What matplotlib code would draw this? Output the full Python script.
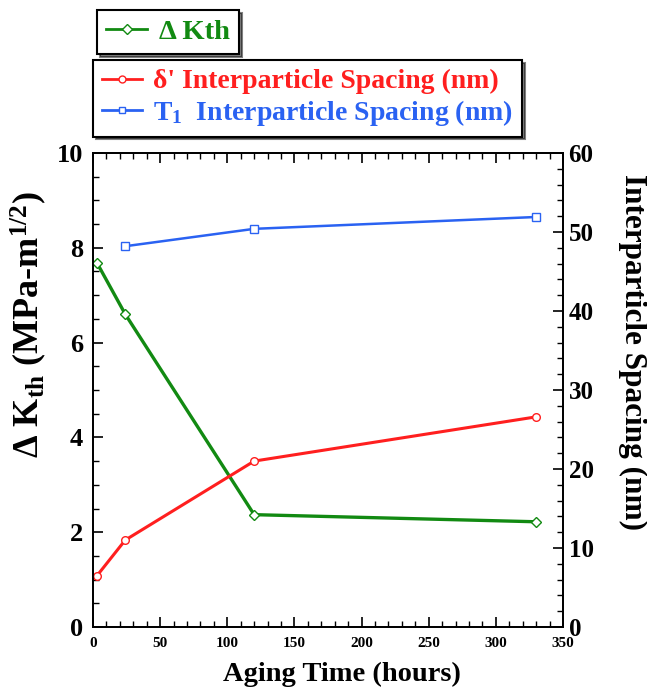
import matplotlib
matplotlib.use("Agg")
import matplotlib.pyplot as plt
from matplotlib.lines import Line2D
from matplotlib.ticker import MultipleLocator

plt.rcParams['font.family'] = ['Liberation Serif', 'DejaVu Serif']
plt.rcParams['font.weight'] = 'bold'
plt.rcParams['mathtext.fontset'] = 'custom'
plt.rcParams['mathtext.rm'] = 'Liberation Serif:bold'
plt.rcParams['mathtext.it'] = 'Liberation Serif:bold:italic'
plt.rcParams['mathtext.bf'] = 'Liberation Serif:bold'

# data
kth_hours = [3, 24, 120, 330]
kth = [7.68, 6.60, 2.37, 2.22]

delta_hours = [3, 24, 120, 330]
delta_spacing = [6.5, 11.0, 21.0, 26.6]

t1_hours = [24, 120, 330]
t1_spacing = [48.2, 50.4, 51.9]

green = '#128a12'
red = '#ff1f1f'
blue = '#2a62f2'

fig = plt.figure(figsize=(6.47, 6.98), dpi=100)
ax = fig.add_axes([93/647, 71/698, 470/647, 474/698])
ax2 = ax.twinx()

ax.plot(kth_hours, kth, color=green, lw=2.4, marker='D', ms=5,
        mfc='white', mec=green, mew=1.0, zorder=3)
ax2.plot(delta_hours, delta_spacing, color=red, lw=2.2, marker='o', ms=5.5,
         mfc='white', mec=red, mew=1.0)
ax2.plot(t1_hours, t1_spacing, color=blue, lw=1.8, marker='s', ms=5.5,
         mfc='white', mec=blue, mew=1.0)

ax.set_xlim(0, 350)
ax.set_ylim(0, 10)
ax2.set_ylim(0, 60)

ax.xaxis.set_major_locator(MultipleLocator(50))
ax.xaxis.set_minor_locator(MultipleLocator(10))
ax.yaxis.set_major_locator(MultipleLocator(2))
ax.yaxis.set_minor_locator(MultipleLocator(0.5))
ax2.yaxis.set_major_locator(MultipleLocator(10))
ax2.yaxis.set_minor_locator(MultipleLocator(2))

ax.tick_params(axis='x', which='both', direction='in', top=True, labelsize=11, pad=7)
ax.tick_params(axis='y', which='both', direction='in', labelsize=19, pad=7)
ax2.tick_params(axis='y', which='both', direction='in', labelsize=18, pad=4)
for a in (ax, ax2):
    a.tick_params(which='major', length=7, width=1.2)
    a.tick_params(which='minor', length=4, width=1.0)
    for s in a.spines.values():
        s.set_linewidth(1.3)

ax.set_xlabel('Aging Time (hours)', fontsize=20.5, fontweight='bold')
ax.xaxis.set_label_coords(0.53, -0.074)
ax.set_ylabel(r'Δ K$_{\mathrm{th}}$ (MPa-m$^{\mathrm{1/2}}$)', fontsize=26, fontweight='bold')
ax.yaxis.set_label_coords(-0.094, 0.637)
ax2.set_ylabel('Interparticle Spacing (nm)', fontsize=22.5, fontweight='bold', rotation=270, va='center')
ax2.yaxis.set_label_coords(1.147, 0.58)

h1 = [Line2D([], [], color=green, lw=2.0, marker='D', ms=5, mfc='white', mec=green)]
leg1 = fig.legend(h1, ['Δ Kth'], loc='upper left', bbox_to_anchor=(97/647, 1 - 10/698),
                  borderaxespad=0, fancybox=False, edgecolor='black', framealpha=1,
                  shadow={'color': 'black'}, labelcolor=[green], prop={'size': 20.5, 'weight': 'bold'},
                  handlelength=1.45, handletextpad=0.4, borderpad=0.32)
leg1.get_frame().set_linewidth(1.5)

h2 = [Line2D([], [], color=red, lw=2.0, marker='o', ms=5, mfc='white', mec=red),
      Line2D([], [], color=blue, lw=2.0, marker='s', ms=5, mfc='white', mec=blue)]
leg2 = fig.legend(h2, ["δ' Interparticle Spacing (nm)", r'T$_{\mathrm{1}}$  Interparticle Spacing (nm)'],
                  loc='upper left', bbox_to_anchor=(93/647, 1 - 60/698),
                  borderaxespad=0, fancybox=False, edgecolor='black', framealpha=1,
                  shadow={'color': 'black'}, labelcolor=[red, blue], prop={'size': 20, 'weight': 'bold'},
                  handlelength=1.45, handletextpad=0.4, borderpad=0.32, labelspacing=0.12)
leg2.get_frame().set_linewidth(1.5)

fig.savefig('out.png', dpi=100)
